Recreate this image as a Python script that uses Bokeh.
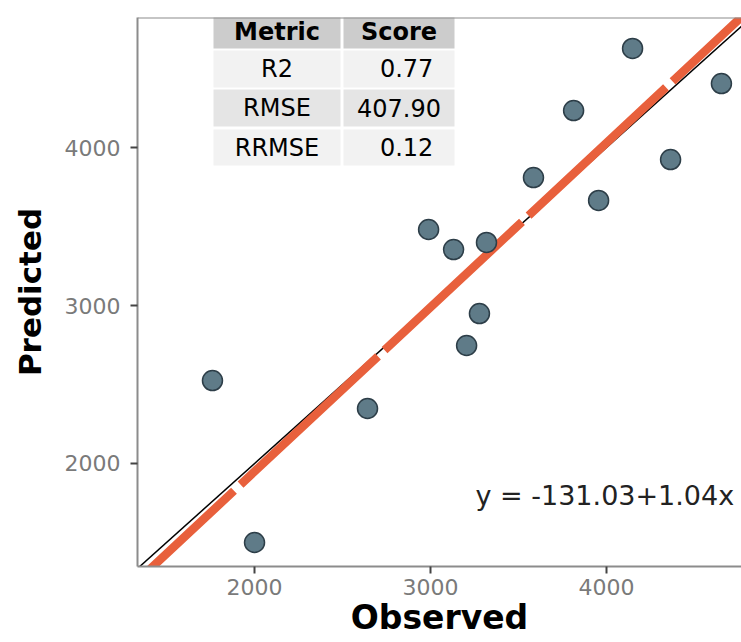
from bokeh.plotting import figure
from bokeh.models import Range1d, FixedTicker, Label, Span
from bokeh.core.properties import value
from bokeh.embed import file_html
from bokeh.resources import INLINE

# ---------------- data ----------------
observed = [1761, 2000, 2642, 2989, 3131, 3318, 3205, 3278, 3585, 3813, 3955, 4148, 4364, 4653]
predicted = [2525, 1500, 2348, 3481, 3354, 3399, 2747, 2949, 3810, 4234, 3665, 4627, 3924, 4405]

intercept = -131.03
slope = 1.04

metric_names = ["R2", "RMSE", "RRMSE"]
metric_scores = [0.77, 407.90, 0.12]
table_header = ["Metric", "Score"]

x_ticks = [2000, 3000, 4000]
y_ticks = [2000, 3000, 4000]
x_lim = (1335, 4767)
y_lim = (1348, 4823)

# ---------------- layout helpers (pixel -> data) ----------------
W, H = 741, 642
FL, FR, FT, FB = 137, 741, 17, 566

def px2x(px):
    return x_lim[0] + (px - FL) / (FR - FL) * (x_lim[1] - x_lim[0])

def px2y(py):
    return y_lim[0] + (FB - py) / (FB - FT) * (y_lim[1] - y_lim[0])

FONT = "DejaVu Sans"
AXIS_GREY = "#8c8c8c"

p = figure(width=W, height=H, output_backend="svg", toolbar_location=None,
           x_range=Range1d(*x_lim), y_range=Range1d(*y_lim),
           min_border_left=FL, min_border_right=W - FR,
           min_border_top=FT, min_border_bottom=H - FB)
p.outline_line_color = None
p.xgrid.visible = False
p.ygrid.visible = False
p.background_fill_color = "white"
p.border_fill_color = "white"

for ax, ticks in ((p.xaxis[0], x_ticks), (p.yaxis[0], y_ticks)):
    ax.ticker = FixedTicker(ticks=ticks)
    ax.minor_tick_line_color = None
    ax.axis_line_color = AXIS_GREY
    ax.axis_line_width = 2
    ax.major_tick_line_color = "#444444"
    ax.major_tick_line_width = 2
    ax.major_tick_in = 0
    ax.major_tick_out = 7
    ax.major_label_text_font = FONT
    ax.major_label_text_font_size = "22px"
    ax.major_label_text_color = "#7a7a7a"
    ax.axis_label_text_font = FONT
    ax.axis_label_text_font_style = "bold"
    ax.axis_label_text_color = "black"
p.xaxis[0].major_label_standoff = 5
p.yaxis[0].major_label_standoff = 10

p.xaxis[0].axis_label = "Observed"
p.xaxis[0].axis_label_text_font_size = "33px"
p.xaxis[0].axis_label_standoff = 0

p.yaxis[0].axis_label = "Predicted"
p.yaxis[0].axis_label_text_font_size = "31px"
p.yaxis[0].axis_label_standoff = 14

# top border of panel
p.add_layout(Span(location=y_lim[1], dimension="width", line_color=AXIS_GREY, line_width=2))

# ---------------- table ----------------
col_edges = [(213, 340), (343, 454)]
row_edges = [(15, 48), (50, 87), (89, 126), (129, 165)]
row_fills = ["#CCCCCC", "#F2F2F2", "#E5E5E5", "#F2F2F2"]

lefts, rights, tops, bottoms, fills = [], [], [], [], []
for ri, (t, b) in enumerate(row_edges):
    for (l, r) in col_edges:
        lefts.append(px2x(l)); rights.append(px2x(r))
        tops.append(px2y(t)); bottoms.append(px2y(b))
        fills.append(row_fills[ri])
p.quad(left=lefts, right=rights, top=tops, bottom=bottoms, fill_color=fills, line_color=None)

col_cx = [(l + r) / 2 for (l, r) in col_edges]
row_cy = [(t + b) / 2 for (t, b) in row_edges]

# header
p.text(x=[px2x(c) for c in col_cx], y=[px2y(row_cy[0])] * 2, text=table_header,
       text_font=value(FONT), text_font_style="bold", text_font_size=value("24px"),
       text_align="center", text_baseline="middle", text_color="black")

score_txt = ["{:.2f}".format(s) for s in metric_scores]
wmax = max(len(s) for s in score_txt)
score_txt = ["\u00a0" * (wmax - len(s)) + s for s in score_txt]

p.text(x=[px2x(col_cx[0])] * 3, y=[px2y(c) for c in row_cy[1:]], text=metric_names,
       text_font=value(FONT), text_font_size=value("24px"),
       text_align="center", text_baseline="middle", text_color="black")
p.text(x=[px2x(col_cx[1])] * 3, y=[px2y(c) for c in row_cy[1:]], text=score_txt,
       text_font=value(FONT), text_font_size=value("24px"),
       text_align="center", text_baseline="middle", text_color="black")

# ---------------- lines ----------------
xs_line = [x_lim[0], x_lim[1]]
p.line(xs_line, xs_line, line_color="black", line_width=1.5)
p.line(xs_line, [intercept + slope * v for v in xs_line], line_color="#E8603C",
       line_width=8.5, line_dash="188 9", line_dash_offset=56)

# ---------------- points ----------------
p.scatter(observed, predicted, size=20, fill_color="#5f7b88", line_color="#2d3e48",
          line_width=1.5)

# ---------------- equation ----------------
eq = "y = {:.2f}+{:.2f}x".format(intercept, slope)
p.add_layout(Label(x=px2x(475), y=px2y(495), text=eq, text_font=FONT,
                   text_font_size="27px", text_color="#222222",
                   text_align="left", text_baseline="alphabetic"))

open("out.html", "w").write(file_html(p, INLINE))
